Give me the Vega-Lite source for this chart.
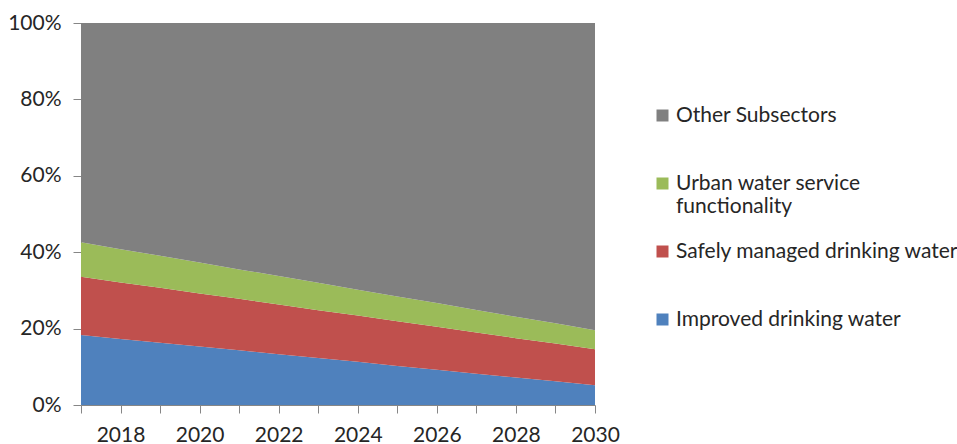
{
  "$schema": "https://vega.github.io/schema/vega-lite/v6.json",
  "width": 514,
  "height": 382,
  "autosize": "none",
  "padding": {"left": 81, "top": 23, "right": 362, "bottom": 39},
  "background": "white",
  "config": {
    "view": {"stroke": null},
    "font": "Lato"
  },
  "data": {
    "values": [
      {"year": 2017, "series": "Improved drinking water", "rank": 1, "share": 0.183},
      {"year": 2018, "series": "Improved drinking water", "rank": 1, "share": 0.173},
      {"year": 2019, "series": "Improved drinking water", "rank": 1, "share": 0.163},
      {"year": 2020, "series": "Improved drinking water", "rank": 1, "share": 0.153},
      {"year": 2021, "series": "Improved drinking water", "rank": 1, "share": 0.143},
      {"year": 2022, "series": "Improved drinking water", "rank": 1, "share": 0.133},
      {"year": 2023, "series": "Improved drinking water", "rank": 1, "share": 0.123},
      {"year": 2024, "series": "Improved drinking water", "rank": 1, "share": 0.113},
      {"year": 2025, "series": "Improved drinking water", "rank": 1, "share": 0.102},
      {"year": 2026, "series": "Improved drinking water", "rank": 1, "share": 0.092},
      {"year": 2027, "series": "Improved drinking water", "rank": 1, "share": 0.082},
      {"year": 2028, "series": "Improved drinking water", "rank": 1, "share": 0.072},
      {"year": 2029, "series": "Improved drinking water", "rank": 1, "share": 0.062},
      {"year": 2030, "series": "Improved drinking water", "rank": 1, "share": 0.052},

      {"year": 2017, "series": "Safely managed drinking water", "rank": 2, "share": 0.153},
      {"year": 2018, "series": "Safely managed drinking water", "rank": 2, "share": 0.148},
      {"year": 2019, "series": "Safely managed drinking water", "rank": 2, "share": 0.144},
      {"year": 2020, "series": "Safely managed drinking water", "rank": 2, "share": 0.139},
      {"year": 2021, "series": "Safely managed drinking water", "rank": 2, "share": 0.135},
      {"year": 2022, "series": "Safely managed drinking water", "rank": 2, "share": 0.130},
      {"year": 2023, "series": "Safely managed drinking water", "rank": 2, "share": 0.125},
      {"year": 2024, "series": "Safely managed drinking water", "rank": 2, "share": 0.121},
      {"year": 2025, "series": "Safely managed drinking water", "rank": 2, "share": 0.117},
      {"year": 2026, "series": "Safely managed drinking water", "rank": 2, "share": 0.113},
      {"year": 2027, "series": "Safely managed drinking water", "rank": 2, "share": 0.108},
      {"year": 2028, "series": "Safely managed drinking water", "rank": 2, "share": 0.103},
      {"year": 2029, "series": "Safely managed drinking water", "rank": 2, "share": 0.099},
      {"year": 2030, "series": "Safely managed drinking water", "rank": 2, "share": 0.094},

      {"year": 2017, "series": "Urban water service functionality", "rank": 3, "share": 0.090},
      {"year": 2018, "series": "Urban water service functionality", "rank": 3, "share": 0.087},
      {"year": 2019, "series": "Urban water service functionality", "rank": 3, "share": 0.084},
      {"year": 2020, "series": "Urban water service functionality", "rank": 3, "share": 0.081},
      {"year": 2021, "series": "Urban water service functionality", "rank": 3, "share": 0.077},
      {"year": 2022, "series": "Urban water service functionality", "rank": 3, "share": 0.075},
      {"year": 2023, "series": "Urban water service functionality", "rank": 3, "share": 0.072},
      {"year": 2024, "series": "Urban water service functionality", "rank": 3, "share": 0.068},
      {"year": 2025, "series": "Urban water service functionality", "rank": 3, "share": 0.065},
      {"year": 2026, "series": "Urban water service functionality", "rank": 3, "share": 0.062},
      {"year": 2027, "series": "Urban water service functionality", "rank": 3, "share": 0.059},
      {"year": 2028, "series": "Urban water service functionality", "rank": 3, "share": 0.056},
      {"year": 2029, "series": "Urban water service functionality", "rank": 3, "share": 0.053},
      {"year": 2030, "series": "Urban water service functionality", "rank": 3, "share": 0.050},

      {"year": 2017, "series": "Other Subsectors", "rank": 4, "share": 0.574},
      {"year": 2018, "series": "Other Subsectors", "rank": 4, "share": 0.592},
      {"year": 2019, "series": "Other Subsectors", "rank": 4, "share": 0.609},
      {"year": 2020, "series": "Other Subsectors", "rank": 4, "share": 0.627},
      {"year": 2021, "series": "Other Subsectors", "rank": 4, "share": 0.645},
      {"year": 2022, "series": "Other Subsectors", "rank": 4, "share": 0.662},
      {"year": 2023, "series": "Other Subsectors", "rank": 4, "share": 0.680},
      {"year": 2024, "series": "Other Subsectors", "rank": 4, "share": 0.698},
      {"year": 2025, "series": "Other Subsectors", "rank": 4, "share": 0.716},
      {"year": 2026, "series": "Other Subsectors", "rank": 4, "share": 0.733},
      {"year": 2027, "series": "Other Subsectors", "rank": 4, "share": 0.751},
      {"year": 2028, "series": "Other Subsectors", "rank": 4, "share": 0.769},
      {"year": 2029, "series": "Other Subsectors", "rank": 4, "share": 0.786},
      {"year": 2030, "series": "Other Subsectors", "rank": 4, "share": 0.804}
    ]
  },
  "mark": {"type": "area", "opacity": 1},
  "encoding": {
    "x": {
      "field": "year",
      "type": "quantitative",
      "scale": {"domain": [2017, 2030], "nice": false, "zero": false},
      "axis": {
        "title": null,
        "values": [2017, 2018, 2019, 2020, 2021, 2022, 2023, 2024, 2025, 2026, 2027, 2028, 2029, 2030],
        "labelExpr": "datum.value % 2 == 0 ? format(datum.value, 'd') : ''",
        "labelFlush": false,
        "labelOverlap": false,
        "grid": false,
        "domainColor": "#868686",
        "tickColor": "#868686",
        "tickSize": 8,
        "labelFontSize": 21,
        "labelColor": "#262626",
        "labelPadding": 11,
        "labelFont": "Lato"
      }
    },
    "y": {
      "field": "share",
      "type": "quantitative",
      "stack": "zero",
      "scale": {"domain": [0, 1], "nice": false},
      "axis": {
        "title": null,
        "values": [0, 0.2, 0.4, 0.6, 0.8, 1],
        "format": ".0%",
        "grid": false,
        "domainColor": "#868686",
        "tickColor": "#868686",
        "tickSize": 8,
        "labelFontSize": 21,
        "labelColor": "#262626",
        "labelPadding": 12,
        "labelFont": "Lato"
      }
    },
    "order": {"field": "rank", "type": "quantitative"},
    "color": {
      "field": "series",
      "type": "nominal",
      "scale": {
        "domain": ["Other Subsectors", "Urban water service functionality", "Safely managed drinking water", "Improved drinking water"],
        "range": ["#808080", "#9BBB59", "#C0504D", "#4F81BD"]
      },
      "legend": {
        "title": null,
        "orient": "none",
        "legendX": 571,
        "legendY": 82,
        "symbolType": "square",
        "symbolSize": 144,
        "symbolStrokeWidth": 0,
        "labelFontSize": 21,
        "labelColor": "#262626",
        "labelFont": "Lato",
        "labelOffset": 3,
        "labelLimit": 400,
        "rowPadding": 23,
        "labelExpr": "datum.label == 'Urban water service functionality' ? ['Urban water service', 'functionality'] : [datum.label, ' ']"
      }
    }
  }
}
